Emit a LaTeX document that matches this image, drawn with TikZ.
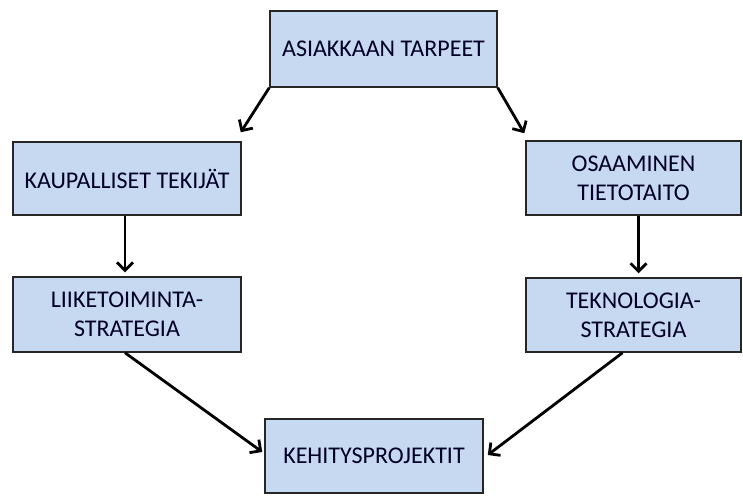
\documentclass[tikz,border=0pt]{standalone}
\usepackage{fontspec}
\setmainfont{Carlito}
\usetikzlibrary{arrows.meta,calc}
\definecolor{boxfill}{HTML}{C6D9F1}
\definecolor{boxline}{HTML}{262626}
\tikzset{
  block/.style={draw=boxline, line width=1.5pt, fill=boxfill, inner sep=0pt,
    align=center, font=\fontsize{24}{29}\selectfont, text=black!85!blue},
  arr/.style={line width=2.8pt, -{Straight Barb[length=8pt,width=16pt,line width=2.8pt]}}
}
\begin{document}
\begin{tikzpicture}[x=1pt,y=-1pt]
  \useasboundingbox (0,0) rectangle (743,495);
  % boxes
  \node[block, minimum width=227pt, minimum height=76pt] (top) at (383.5,49) {ASIAKKAAN TARPEET};
  \node[block, minimum width=228pt, minimum height=73pt] (l1) at (127,178.5) {KAUPALLISET TEKIJÄT};
  \node[block, minimum width=228pt, minimum height=75pt] (l2) at (127,314.5) {LIIKETOIMINTA-\\STRATEGIA};
  \node[block, minimum width=215pt, minimum height=74pt] (r1) at (633.5,178) {OSAAMINEN\\TIETOTAITO};
  \node[block, minimum width=215pt, minimum height=74pt] (r2) at (633.5,315) {TEKNOLOGIA-\\STRATEGIA};
  \node[block, minimum width=218pt, minimum height=74pt] (bot) at (374,456) {KEHITYSPROJEKTIT};
  % connectors
  \draw[arr] (top.south west) -- ([xshift=-1pt,yshift=9pt]l1.north east);
  \draw[arr] (top.south east) -- ([xshift=-1pt,yshift=7pt]r1.north west);
  \draw[arr] ([xshift=-2pt]l1.south) -- ([xshift=-2pt,yshift=4pt]l2.north);
  \draw[arr] ([xshift=5pt]r1.south) -- ([xshift=5pt,yshift=4pt]r2.north);
  \draw[arr] ([xshift=-2pt]l2.south) -- ([xshift=-2pt,yshift=4pt]bot.west);
  \draw[arr] ([xshift=-11pt]r2.south) -- ([xshift=4pt,yshift=1pt]bot.east);
\end{tikzpicture}
\end{document}
